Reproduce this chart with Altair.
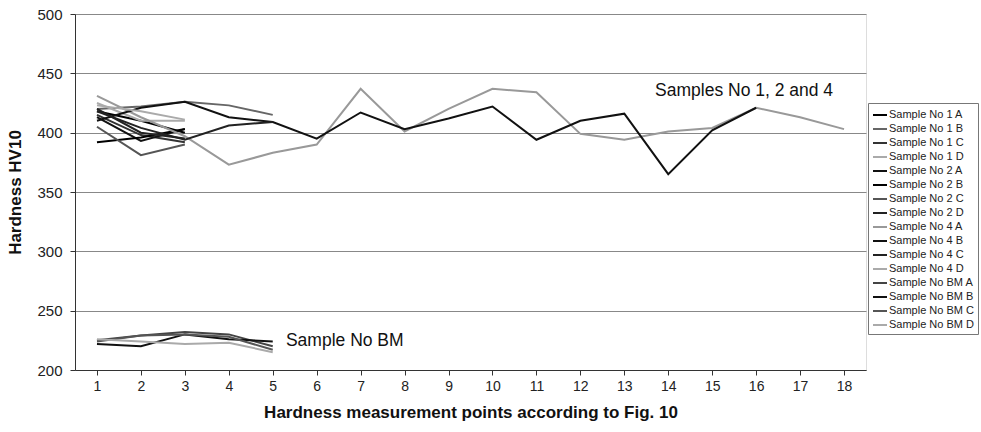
import altair as alt
import pandas as pd

series_names = [
    "Sample No 1 A", "Sample No 1 B", "Sample No 1 C", "Sample No 1 D",
    "Sample No 2 A", "Sample No 2 B", "Sample No 2 C", "Sample No 2 D",
    "Sample No 4 A", "Sample No 4 B", "Sample No 4 C", "Sample No 4 D",
    "Sample No BM A", "Sample No BM B", "Sample No BM C", "Sample No BM D",
]
series_values = [
    [418, 410, 400],
    [420, 422, 426, 423, 415],
    [415, 398, 392],
    [425, 410, 410],
    [413, 393, 403],
    [392, 396, 403],
    [405, 381, 390],
    [420, 400, 395],
    [431, 413, 397, 373, 383, 390, 437, 401, 420, 437, 434, 399, 394, 401, 404, 421, 413, 403],
    [410, 421, 426, 413, 409, 395, 417, 403, 412, 422, 394, 410, 416, 365, 402, 421],
    [418, 404, 394, 406, 409],
    [423, 418, 411],
    [225, 229, 232, 230, 220],
    [222, 220, 230, 226, 224],
    [224, 229, 230, 228, 217],
    [226, 224, 222, 223, 215],
]
series_colors = [
    "#000000", "#666666", "#333333", "#aaaaaa",
    "#111111", "#000000", "#555555", "#222222",
    "#999999", "#111111", "#222222", "#aaaaaa",
    "#444444", "#111111", "#555555", "#aaaaaa",
]
x_ticks = list(range(1, 19))
y_ticks = [200, 250, 300, 350, 400, 450, 500]

note_texts = ["Samples No 1, 2 and 4", "Sample No BM"]
note_x = [13.7, 5.3]
note_y = [435, 224.5]

rows = []
for name, vals in zip(series_names, series_values):
    for i, v in enumerate(vals):
        rows.append({"series": name, "point": i + 1, "hv": v})
df = pd.DataFrame(rows)
notes = pd.DataFrame({"text": note_texts, "x": note_x, "y": note_y})

FONT = "Liberation Sans"

x_scale = alt.Scale(domain=[0.5, 18.5], nice=False, zero=False)
y_scale = alt.Scale(domain=[200, 500], nice=False, zero=False)

lines = alt.Chart(df).mark_line(strokeWidth=2).encode(
    x=alt.X("point:Q", scale=x_scale,
            axis=alt.Axis(values=x_ticks, grid=False, tickSize=5, labelFontSize=14,
                          labelPadding=4, title="Hardness measurement points according to Fig. 10",
                          titleFontSize=17, titleFontWeight="bold", titlePadding=11,
                          domainColor="#333333", tickColor="#333333", labelColor="#222222",
                          titleColor="#111111", labelFont=FONT, titleFont=FONT,
                          format="d")),
    y=alt.Y("hv:Q", scale=y_scale,
            axis=alt.Axis(values=y_ticks, grid=True, gridColor="#888888", gridWidth=1,
                          tickSize=5, labelFontSize=15, labelPadding=8,
                          title="Hardness HV10", titleFontSize=17, titleFontWeight="bold",
                          titlePadding=12, domainColor="#333333", tickColor="#333333",
                          labelColor="#222222", titleColor="#111111",
                          labelFont=FONT, titleFont=FONT)),
    color=alt.Color("series:N",
                    scale=alt.Scale(domain=series_names, range=series_colors),
                    legend=alt.Legend(title=None, orient="none", legendX=793, legendY=89,
                                      symbolType="stroke", symbolSize=196,
                                      symbolStrokeWidth=2, labelFontSize=11,
                                      labelFont=FONT, labelColor="#222222",
                                      rowPadding=1, padding=4,
                                      strokeColor="#777777", fillColor="#ffffff",
                                      labelOffset=1, labelLimit=200)),
    detail="series:N",
    order="point:Q",
)

text = alt.Chart(notes).mark_text(align="left", baseline="middle", fontSize=17.5,
                                  font=FONT, color="#111111").encode(
    x=alt.X("x:Q", scale=x_scale),
    y=alt.Y("y:Q", scale=y_scale),
    text="text:N",
)

chart = alt.layer(lines, text).properties(
    width=791, height=356,
    autosize=alt.AutoSizeParams(type="none"),
    padding={"left": 75, "top": 14, "right": 115, "bottom": 62},
).configure_view(stroke=None).configure(background="#ffffff")

chart.save("out.html", embed_options={"renderer": "svg", "actions": False})
